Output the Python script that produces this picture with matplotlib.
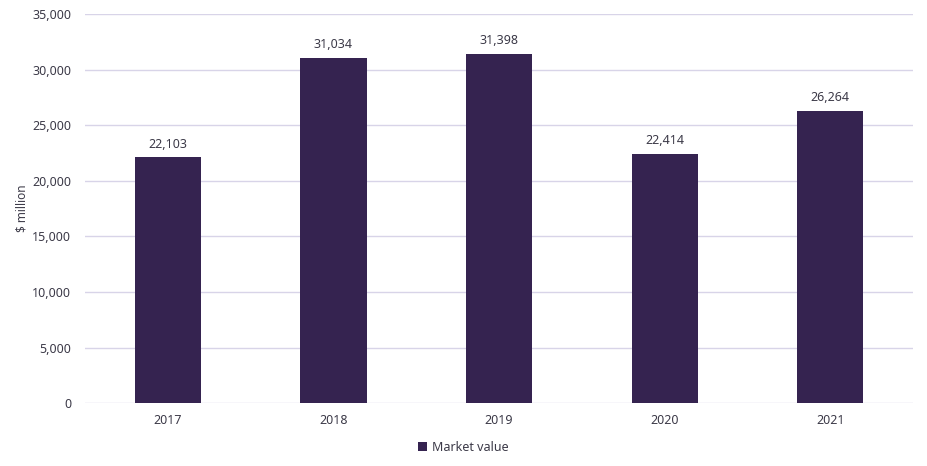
import numpy as np
import matplotlib
matplotlib.use("Agg")
import matplotlib.pyplot as plt
from matplotlib.ticker import FuncFormatter

years = ['2017', '2018', '2019', '2020', '2021']
market_value = [22103, 31034, 31398, 22414, 26264]

bar_color = '#352350'
grid_color = '#d8d4e8'
text_color = '#3c3a48'

plt.rcParams['font.family'] = ['Noto Sans', 'DejaVu Sans']

fig = plt.figure(figsize=(9.27, 4.66), dpi=100)
ax = fig.add_axes([0.0917, 0.135, 0.8933, 0.835])

x = np.arange(len(years))
bars = ax.bar(x, market_value, width=0.4, color=bar_color, label='Market value', zorder=3)

for b, v in zip(bars, market_value):
    ax.text(b.get_x() + b.get_width() / 2, v + 600, f'{v:,}', ha='center', va='bottom',
            fontsize=9, color=text_color)

ax.set_xlim(-0.5, len(years) - 0.5)
ax.set_ylim(0, 35000)
ax.set_yticks(np.arange(0, 35001, 5000))
ax.yaxis.set_major_formatter(FuncFormatter(lambda v, p: f'{int(v):,}'))
ax.set_xticks(x)
ax.set_xticklabels(years)

ax.grid(axis='y', color=grid_color, linewidth=1, zorder=0)
for s in ax.spines.values():
    s.set_visible(False)
ax.tick_params(length=0, colors=text_color, labelsize=9)
ax.tick_params(axis='x', pad=8)
ax.tick_params(axis='y', pad=10)
ax.set_ylabel('$ million', color=text_color, fontsize=8.5)
ax.yaxis.set_label_coords(-0.068, 0.5)

fig.legend(loc='center', bbox_to_anchor=(0.5, 0.04), frameon=False, fontsize=9,
           handlelength=0.7, handleheight=0.7, handletextpad=0.4, labelcolor=text_color)

fig.savefig('out.png', dpi=100)
